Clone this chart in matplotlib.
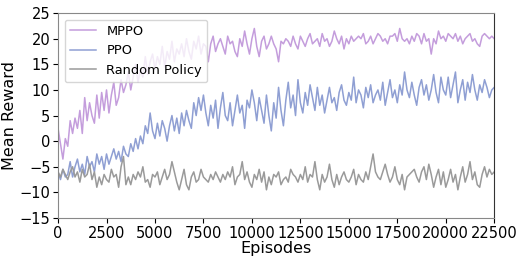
import numpy as np
import matplotlib
matplotlib.use("Agg")
import matplotlib.pyplot as plt

episodes = np.arange(0, 22501, 125)

mppo = [
    2.5, -0.5, -3.5, 0.5, -1.0, 4.0, 1.5, 4.5, 2.5, 6.0,
    1.5, 8.5, 4.0, 7.5, 5.0, 3.5, 9.0, 4.5, 9.5, 6.0,
    10.0, 5.5, 9.0, 11.5, 7.0, 8.5, 12.0, 9.5, 11.0, 13.5,
    10.0, 12.5, 15.0, 11.5, 14.0, 12.5, 16.5, 13.0, 15.5, 17.0,
    14.0, 16.5, 15.0, 18.5, 14.5, 17.5, 16.0, 19.5, 15.5, 18.0,
    17.0, 19.0, 16.5, 20.0, 17.5, 16.0, 19.5, 18.0, 20.5, 17.0,
    19.0, 18.5, 15.5, 19.0, 20.5, 17.5, 19.0, 20.0, 18.5, 17.0,
    20.5, 19.0, 19.5, 17.5, 16.5, 20.0, 18.5, 21.5, 19.0, 17.0,
    20.0, 22.0, 18.5, 16.5, 19.5, 20.5, 18.0, 19.0, 20.5, 19.0,
    18.0, 15.5, 19.5, 19.0, 20.0, 19.5, 18.5, 20.5, 19.0, 18.0,
    20.5, 19.5, 18.5, 20.0, 21.0, 19.0, 19.5, 20.0, 18.5, 21.0,
    19.5, 20.0, 18.5, 19.5, 21.5, 20.0, 19.0, 20.5, 18.0, 20.0,
    19.0, 20.5, 19.5, 20.0, 20.5, 20.0, 21.0, 19.0, 19.5, 20.5,
    19.0, 20.0, 21.0, 20.5, 19.5, 20.0, 19.0, 20.5, 20.5, 21.0,
    19.5, 22.0, 20.0, 19.5, 20.0, 19.0, 20.5, 19.5, 21.0, 20.5,
    19.0, 21.0, 19.5, 20.0, 17.0, 20.0, 19.0, 21.5, 20.0, 20.5,
    19.5, 21.0, 20.5, 20.0, 21.0, 19.5, 20.5, 19.0, 20.0, 20.5,
    21.0, 19.5, 20.0, 19.0, 18.5, 20.5, 21.0, 20.5, 20.0, 20.5, 20.0,
]

ppo = [
    -6.0, -7.5, -5.5, -7.0, -6.5, -4.0, -7.0, -5.0, -3.5, -6.0,
    -4.5, -6.5, -3.0, -5.0, -4.0, -6.0, -2.5, -4.5, -3.0, -5.5,
    -2.5, -4.5, -3.0, -1.5, -3.5, -2.0, -4.0, -1.0, -2.5, -3.0,
    -0.5, -2.0, 0.5, -1.5, 1.0, -0.5, 3.0, 1.5, 5.5, 2.0,
    0.5, 3.5, 1.0, 4.0, 2.5, 0.0, 3.0, 5.0, 2.0, 4.5,
    1.5, 5.5, 3.0, 6.0, 4.0, 2.5, 7.5, 5.0, 8.5, 6.0,
    9.0, 5.5, 3.0, 7.0, 4.5, 8.0, 2.5, 6.5, 9.5, 5.0,
    4.0, 7.5, 3.0, 6.0, 9.0, 5.5, 7.0, 2.5, 8.0, 6.5,
    10.0, 7.5, 4.0, 8.5, 6.0, 3.5, 9.0, 5.0, 2.0, 7.5,
    4.5, 10.5, 6.0, 3.0, 8.0, 11.5, 6.5, 9.0, 5.0, 12.0,
    7.5, 5.5, 9.5, 7.0, 11.0, 8.5, 6.0, 10.5, 7.0, 9.0,
    5.5, 8.0, 10.5, 7.5, 8.5, 6.0, 9.5, 11.0, 8.0, 7.0,
    9.5, 8.0, 12.5, 7.5, 10.0, 9.0, 6.5, 10.5, 8.5, 11.0,
    7.5, 9.0, 10.0, 8.0, 11.5, 7.0, 9.5, 12.0, 8.5, 10.0,
    7.5, 11.0, 9.0, 13.5, 10.0, 8.5, 11.5, 9.0, 7.0, 10.5,
    12.0, 9.0, 11.0, 8.0, 10.0, 13.0, 9.5, 7.5, 12.5, 10.0,
    9.0, 12.5, 8.5, 11.0, 13.5, 7.5, 10.0, 12.0, 8.0, 11.5,
    9.5, 13.0, 10.0, 8.0, 11.0, 9.5, 12.0, 10.5, 8.5, 10.0, 10.5,
]

random_policy = [
    -6.0, -7.0, -5.5, -6.5, -7.5, -6.0, -5.0, -7.0, -6.0, -8.0,
    -5.5, -7.0, -6.5, -4.5, -7.5, -6.0, -9.0, -7.0, -8.5, -6.5,
    -7.5, -8.0, -5.5, -7.0, -6.5, -9.0, -5.0, -3.0, -8.5, -7.0,
    -8.5, -6.5, -7.5, -6.0, -7.0, -5.0, -8.0, -7.5, -9.0, -6.5,
    -7.0, -6.0, -8.5, -7.0, -5.5, -7.5, -6.5, -4.0, -6.0, -8.0,
    -9.5, -7.5, -5.5, -8.5, -9.5, -7.0, -6.0, -8.0, -7.5, -5.5,
    -7.0, -7.5, -8.0, -6.5, -7.5, -6.0, -7.0, -8.0, -6.5, -7.5,
    -6.0, -7.0, -5.0, -8.5, -7.0, -6.5, -4.0, -7.5, -6.0, -8.0,
    -9.0, -6.5, -7.5, -5.5, -8.0, -6.0, -9.5, -7.0, -8.5, -6.5,
    -7.0, -6.0, -8.5, -7.5, -7.0, -8.0, -5.5, -6.5, -7.0, -8.0,
    -6.5, -7.5, -5.0, -8.0, -6.5, -7.0, -4.0, -7.5, -9.5, -6.5,
    -8.0, -7.0, -4.5, -7.5, -9.0, -6.5, -8.5, -7.0, -6.0, -7.5,
    -8.0, -7.0, -5.5, -8.5, -6.5, -7.5, -8.0, -6.0, -7.5, -5.0,
    -2.5, -6.0, -7.0, -7.5, -6.0, -4.5, -6.5, -8.0, -7.0, -5.0,
    -7.5, -8.5, -6.5, -9.5, -7.0, -6.5, -6.0, -5.5, -7.0, -8.0,
    -6.0, -5.0, -7.5, -4.5, -6.5, -9.0, -7.0, -5.5, -8.5, -6.0,
    -9.0, -7.5, -5.5, -8.0, -6.5, -9.5, -7.0, -5.0, -8.0, -6.5,
    -4.0, -7.5, -6.0, -8.5, -9.0, -6.5, -5.0, -7.0, -5.5, -6.5, -6.0,
]

series_names = ["MPPO", "PPO", "Random Policy"]
series_colors = ["#c49ddc", "#8f9fd3", "#9a9a9a"]
xticks = [0, 2500, 5000, 7500, 10000, 12500, 15000, 17500, 20000, 22500]
yticks = [-15, -10, -5, 0, 5, 10, 15, 20, 25]

fig = plt.figure(figsize=(5.23, 2.62), dpi=100)
ax = fig.add_axes([0.111, 0.168, 0.834, 0.782])

for vals, name, col in zip([mppo, ppo, random_policy], series_names, series_colors):
    ax.plot(episodes, vals, color=col, lw=1.1, label=name)

ax.set_xlim(0, 22500)
ax.set_ylim(-15, 25)
ax.set_xticks(xticks)
ax.set_yticks(yticks)
ax.tick_params(labelsize=10.5, pad=2, length=3.5)
ax.set_xlabel("Episodes", fontsize=11.5, labelpad=0)
ax.set_ylabel("Mean Reward", fontsize=11.5, labelpad=2)
for s in ["left", "bottom", "top"]:
    ax.spines[s].set_color("#888888")
ax.spines["right"].set_color("#333333")
ax.legend(loc="upper left", fontsize=9.4)

fig.savefig("out.png", dpi=100)
